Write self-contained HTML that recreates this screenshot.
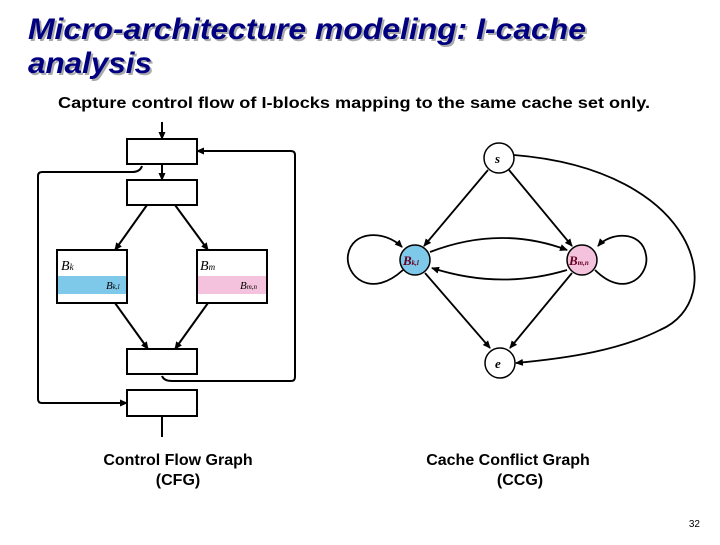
<!DOCTYPE html>
<html><head><meta charset="utf-8"><style>
body{margin:0;background:#fff;width:720px;height:540px;overflow:hidden;font-family:"Liberation Sans",sans-serif}
</style></head><body>
<svg width="720" height="540" xmlns="http://www.w3.org/2000/svg" font-family="Liberation Sans, sans-serif">
<defs>
<marker id="a" markerWidth="9" markerHeight="9" refX="7" refY="3.5" orient="auto" markerUnits="userSpaceOnUse"><path d="M0,0 L8,3.5 L0,7z" fill="#000"/></marker>
</defs>
<g font-size="30" font-weight="bold" font-style="italic" lengthAdjust="spacingAndGlyphs">
<text x="30" y="41" fill="#aaa" textLength="558" lengthAdjust="spacingAndGlyphs">Micro-architecture modeling: I-cache</text>
<text x="30" y="75" fill="#aaa" textLength="124" lengthAdjust="spacingAndGlyphs">analysis</text>
<text x="28" y="39" fill="#000080" textLength="558" lengthAdjust="spacingAndGlyphs">Micro-architecture modeling: I-cache</text>
<text x="28" y="73" fill="#000080" textLength="124" lengthAdjust="spacingAndGlyphs">analysis</text>
</g>
<text x="58" y="108" font-size="16" font-weight="bold" textLength="592" lengthAdjust="spacingAndGlyphs">Capture control flow of I-blocks mapping to the same cache set only.</text>
<!-- CFG -->
<g stroke="#000" stroke-width="2" fill="none">
<rect x="127" y="139" width="70" height="25" fill="#fff"/>
<rect x="127" y="180" width="70" height="25" fill="#fff"/>
<rect x="57" y="250" width="70" height="53" fill="#fff"/>
<rect x="197" y="250" width="70" height="53" fill="#fff"/>
<rect x="127" y="349" width="70" height="25" fill="#fff"/>
<rect x="127" y="390" width="70" height="26" fill="#fff"/>
<line x1="162" y1="122" x2="162" y2="139" marker-end="url(#a)"/>
<line x1="162" y1="164" x2="162" y2="180" marker-end="url(#a)"/>
<line x1="162" y1="416" x2="162" y2="437"/>
<line x1="147" y1="205" x2="115" y2="250" marker-end="url(#a)"/>
<line x1="175" y1="205" x2="208" y2="250" marker-end="url(#a)"/>
<line x1="115" y1="303" x2="148" y2="349" marker-end="url(#a)"/>
<line x1="208" y1="303" x2="175" y2="349" marker-end="url(#a)"/>
<path d="M142,166 Q140,172 132,172 L42,172 Q38,172 38,176 L38,399 Q38,403 42,403 L127,403" marker-end="url(#a)"/>
<path d="M162,376 Q164,381 172,381 L291,381 Q295,381 295,377 L295,155 Q295,151 291,151 L197,151" marker-end="url(#a)"/>
</g>
<rect x="58" y="276" width="68" height="18" fill="#7ec8ea"/>
<rect x="198" y="276" width="68" height="18" fill="#f4c2dc"/>
<g font-family="Liberation Serif, serif" font-style="italic" font-size="14">
<text x="61" y="270">B<tspan font-size="9">k</tspan></text>
<text x="200" y="270">B<tspan font-size="9">m</tspan></text>
<text x="106" y="289" font-size="11">B<tspan font-size="7">k,l</tspan></text>
<text x="240" y="289" font-size="11">B<tspan font-size="7">m,n</tspan></text>
</g>
<!-- CCG -->
<g stroke="#000" stroke-width="1.8" fill="none">
<line x1="488" y1="170" x2="424" y2="246" marker-end="url(#a)"/>
<line x1="509" y1="170" x2="572" y2="246" marker-end="url(#a)"/>
<line x1="425" y1="273" x2="490" y2="348" marker-end="url(#a)"/>
<line x1="572" y1="273" x2="510" y2="348" marker-end="url(#a)"/>
<path d="M430,252 Q500,225 567,250" marker-end="url(#a)"/>
<path d="M567,270 Q500,290 432,268" marker-end="url(#a)"/>
<path d="M403,270 C370,300 345,275 348,255 C352,230 385,230 402,247" marker-end="url(#a)"/>
<path d="M595,270 C625,300 650,275 646,255 C642,230 610,232 598,246" marker-end="url(#a)"/>
<path d="M514,155 C700,170 730,300 660,330 C620,350 570,358 516,363" marker-end="url(#a)"/>
</g>
<g stroke="#000" stroke-width="1.5">
<circle cx="499" cy="158" r="15" fill="#fff"/>
<circle cx="415" cy="260" r="15" fill="#7ec8ea"/>
<circle cx="582" cy="260" r="15" fill="#f4c2dc"/>
<circle cx="500" cy="363" r="15" fill="#fff"/>
</g>
<g font-family="Liberation Serif, serif" font-style="italic" font-weight="bold">
<text x="495" y="163" font-size="13">s</text>
<text x="495" y="368" font-size="13">e</text>
<text x="403" y="265" font-size="13" fill="#602">B<tspan font-size="7">k,l</tspan></text>
<text x="569" y="265" font-size="13" fill="#602">B<tspan font-size="7">m,n</tspan></text>
</g>
<g font-size="16" font-weight="bold" text-anchor="middle">
<text x="178" y="465">Control Flow Graph</text>
<text x="178" y="485">(CFG)</text>
<text x="508" y="465">Cache Conflict Graph</text>
<text x="520" y="485">(CCG)</text>
</g>
<text x="700" y="527" font-size="10" text-anchor="end">32</text>
</svg>
</body></html>
